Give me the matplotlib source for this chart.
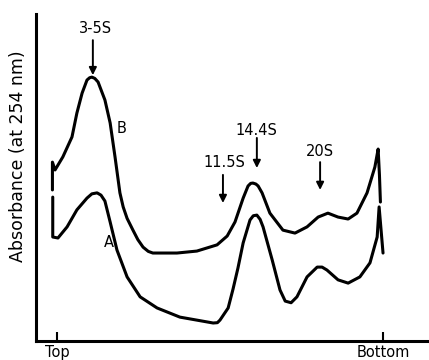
import numpy as np
import matplotlib
matplotlib.use("Agg")
import matplotlib.pyplot as plt

# position in gradient (0 = top, 100 = bottom), absorbance in arbitrary units
pos_b = [-1.4, -1.4, -0.6, 1.8, 4.6, 6.1, 7.7, 9.2, 10.0, 10.7, 11.6, 12.6, 14.7,
         16.3, 17.8, 19.3, 20.3, 21.5, 23.3, 24.8, 26.4, 28.0, 29.4, 36.8, 42.9,
         49.1, 52.2, 54.6, 57.1, 58.6, 59.4, 60.1, 61.0, 61.7, 62.9, 65.3, 69.3,
         73.0, 76.7, 80.1, 83.1, 86.2, 89.3, 92.0, 95.1, 97.5, 98.1, 98.5, 98.9, 99.2]
abs_b = [0.462, 0.547, 0.523, 0.563, 0.624, 0.697, 0.758, 0.798, 0.805, 0.807,
         0.803, 0.792, 0.737, 0.667, 0.563, 0.453, 0.410, 0.375, 0.339, 0.310,
         0.287, 0.274, 0.269, 0.269, 0.275, 0.294, 0.321, 0.364, 0.437, 0.474,
         0.482, 0.483, 0.480, 0.474, 0.453, 0.391, 0.339, 0.330, 0.349, 0.379,
         0.391, 0.379, 0.373, 0.391, 0.453, 0.532, 0.565, 0.587, 0.508, 0.425]

pos_a = [-1.3, -1.3, 0.3, 3.1, 6.1, 9.2, 10.7, 12.3, 13.5, 14.7, 16.3, 18.4, 21.5,
         25.5, 30.7, 37.7, 47.9, 49.2, 50.0, 52.5, 54.0, 55.5, 57.1, 59.2, 60.2,
         61.3, 62.3, 63.2, 66.0, 68.4, 70.0, 71.8, 73.6, 76.7, 79.8, 81.3, 82.8,
         86.2, 89.3, 92.9, 96.0, 98.2, 98.8, 100.0]
abs_a = [0.440, 0.318, 0.315, 0.349, 0.401, 0.437, 0.450, 0.453, 0.446, 0.428,
         0.364, 0.278, 0.196, 0.135, 0.101, 0.073, 0.055, 0.056, 0.064, 0.101,
         0.159, 0.223, 0.300, 0.370, 0.383, 0.385, 0.372, 0.349, 0.248, 0.156,
         0.122, 0.117, 0.135, 0.196, 0.226, 0.226, 0.217, 0.187, 0.177, 0.196,
         0.239, 0.318, 0.410, 0.269]

# sedimentation markers: name, position, arrow tail / tip heights
markers = ["3-5S", "11.5S", "14.4S", "20S"]
marker_pos = [11.0, 50.9, 61.3, 80.7]
arrow_tail = [0.920, 0.508, 0.621, 0.547]
arrow_tip = [0.813, 0.422, 0.529, 0.462]
label_xy = [(11.8, 0.957), (51.2, 0.547), (61.3, 0.645), (80.7, 0.578)]

fig = plt.figure(figsize=(4.29, 3.6), dpi=100)
ax = fig.add_axes([0.0839, 0.0528, 0.9161, 0.9083])

ax.plot(pos_b, abs_b, color="black", lw=2.2, solid_joinstyle="round", solid_capstyle="round")
ax.plot(pos_a, abs_a, color="black", lw=2.2, solid_joinstyle="round", solid_capstyle="round")

for name, x, t0, t1, (lx, ly) in zip(markers, marker_pos, arrow_tail, arrow_tip, label_xy):
    ax.annotate("", xy=(x, t1), xytext=(x, t0),
                arrowprops=dict(arrowstyle="-|>", color="black", lw=1.4,
                                mutation_scale=11, shrinkA=0, shrinkB=0))
    ax.text(lx, ly, name, ha="center", va="center", fontsize=10.5)

ax.text(19.9, 0.651, "B", ha="center", va="center", fontsize=10.5)
ax.text(16.0, 0.300, "A", ha="center", va="center", fontsize=10.5)

ax.set_xlim(-6.44, 114.1)
ax.set_ylim(0, 1)
ax.spines["top"].set_visible(False)
ax.spines["right"].set_visible(False)
ax.spines["left"].set_linewidth(2.2)
ax.spines["bottom"].set_linewidth(2.2)
ax.set_yticks([])
ax.set_xticks([0, 100])
ax.set_xticklabels(["Top", "Bottom"], fontsize=10.5)
ax.tick_params(axis="x", direction="in", length=6.5, width=1.5, pad=3)

fig.text(18 / 429, 1 - 156 / 360, "Absorbance (at 254 nm)", rotation=90,
         ha="center", va="center", fontsize=12.5)

fig.savefig("out.png", dpi=100)
